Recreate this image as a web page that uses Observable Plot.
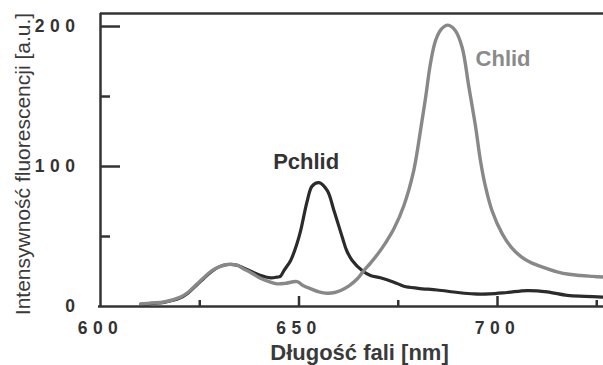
<!DOCTYPE html>
<html><head><meta charset="utf-8">
<script src="https://cdn.jsdelivr.net/npm/d3@7"></script>
<script src="https://cdn.jsdelivr.net/npm/@observablehq/plot@0.6"></script>
<style>
html,body{margin:0;padding:0;background:#fff;}
g[aria-label="x-axis tick label"] text, g[aria-label="y-axis tick label"] text {letter-spacing:5.5px;}
</style>
</head><body><div id="chart"></div>
<script>
// Chlid (gray) spectrum
const chlidNm = [610.1,613,616,620,622,624.3,626,628,630,632,634.4,636,638,640,642.8,644.5,646.5,649.5,651,653,655,657.1,659,660.5,662.5,664.7,666.3,668,669.7,671.8,673.9,676.4,678.9,680.6,681.9,683.1,684.4,685.8,687.5,689.4,691.1,692.8,694.5,695.7,697,698.6,701.2,703.7,706,708,710,712.5,715,718,720.9,724,726.7];
const chlidVal = [1.9,2.5,3.2,6.5,10,16,20.5,25.5,28.5,30,29.5,27,24,20.5,17.4,16.2,16.5,17.8,15,12.6,10.5,9.5,10,11.4,14.5,19.8,25.5,31,37,45.5,55.5,72,97.1,125.7,149.5,173.4,190,198,201,197,185,156.6,128,104.3,85.2,68.6,51.9,41.5,35.5,32,29.5,27,24.8,23,22.1,21.5,21];
// Pchlid (dark) spectrum
const pchlidNm = [610.1,613,616,620,622,624.3,626,628,630,632,634.4,636,638,640,642.8,644.5,645.3,646.2,647.9,649.5,650.4,652.1,653.3,655,657.1,658.8,660.9,662,663.4,665.9,668,670.5,673.9,676.4,680,684.8,690,694,698,702.4,707.5,712.5,717.6,722,726.7];
const pchlidVal = [1.5,2.2,3,6,9.5,15.5,20,25,28.5,30,29.5,27.5,25,22.5,20.5,21,21.5,25.7,32.9,45,54,75.7,86,88.5,82.9,68.6,49.5,40,32.9,25.7,22.1,20.5,17.4,14.5,13,11.8,10,9,9,10,11.4,10.5,8,7.3,6.7];
// axis ticks
const xTickLabels = [600,650,700];
const xMajorTicks = [650,700];
const xMinorTicks = [625,675,725];
const yTickLabels = [0,100,200];
const yMajorTicks = [100,200];
const yMinorTicks = [50,150];
// annotations
const seriesNames = ["Pchlid","Chlid"];
const seriesLabelNm = [651.8,701.4];
const seriesLabelVal = [103.6,177];
const xTitle = "Długość fali [nm]";
const yTitle = "Intensywność fluorescencji [a.u.]";

const xDomain = [600, 726.7];
const yDomain = [0, 209.3];

const chlid = chlidNm.map((x,i)=>({x, y: chlidVal[i]}));
const pchlid = pchlidNm.map((x,i)=>({x, y: pchlidVal[i]}));
const labels = seriesNames.map((name,i)=>({name, x: seriesLabelNm[i], y: seriesLabelVal[i]}));

const W = 603, H = 365, mL = 100, mR = 0, mT = 13, mB = 59;
const fw = W - mL - mR, fh = H - mT - mB;
const axisColor = "#333";

const chart = Plot.plot({
  width: W, height: H,
  marginLeft: mL, marginRight: mR, marginTop: mT, marginBottom: mB,
  style: {fontFamily: "'Liberation Sans', Arial, sans-serif", background: "#fff", overflow: "visible"},
  x: {domain: xDomain},
  y: {domain: yDomain},
  marks: [
    // frame lines
    Plot.ruleY([yDomain[1]], {stroke: axisColor, strokeWidth: 2.5}),
    Plot.ruleX([xDomain[0]], {stroke: axisColor, strokeWidth: 2.5}),
    Plot.ruleY([0], {stroke: axisColor, strokeWidth: 2.5, insetLeft: -2}),
    // ticks
    Plot.tickY(yMajorTicks, {y: d=>d, stroke: axisColor, strokeWidth: 2.5, insetRight: fw - 20}),
    Plot.tickY(yMinorTicks, {y: d=>d, stroke: axisColor, strokeWidth: 2.5, insetRight: fw - 10}),
    Plot.tickX(xMajorTicks, {x: d=>d, stroke: axisColor, strokeWidth: 2.5, insetTop: fh - 10}),
    Plot.tickX(xMinorTicks, {x: d=>d, stroke: axisColor, strokeWidth: 2.5, insetTop: fh - 6}),
    // tick labels
    Plot.axisX({ticks: xTickLabels, tickSize: 0, tickPadding: 15, tickFormat: d=>String(d), fontSize: 17.5, fontWeight: "bold", fill: axisColor, label: null}),
    Plot.axisY({ticks: yTickLabels, tickSize: 0, tickPadding: 20, tickFormat: d=>String(d), fontSize: 17.5, fontWeight: "bold", fill: axisColor, label: null}),
    // data
    Plot.line(pchlid, {x: "x", y: "y", stroke: "#2b2b2b", strokeWidth: 3.2, curve: "catmull-rom"}),
    Plot.line(chlid, {x: "x", y: "y", stroke: "#888888", strokeWidth: 3.4, curve: "catmull-rom"}),
    // series labels
    Plot.text(labels, {x: "x", y: "y", text: "name", fontSize: 22, fontWeight: "bold", fill: (d)=> d.name === "Chlid" ? "#8a8a8a" : "#333"}),
    // axis titles
    Plot.text([xTitle], {frameAnchor: "bottom", text: d=>d, dx: 7.5, dy: 46, lineAnchor: "middle", textAnchor: "middle", fontSize: 22, fontWeight: "bold", fill: "#3a3a3a"}),
    Plot.text([yTitle], {frameAnchor: "left", text: d=>d, rotate: -90, dx: -77.5, dy: 4, lineAnchor: "middle", textAnchor: "middle", fontSize: 21, fill: "#3a3a3a"})
  ]
});
document.getElementById("chart").appendChild(chart);
</script>
</body></html>
